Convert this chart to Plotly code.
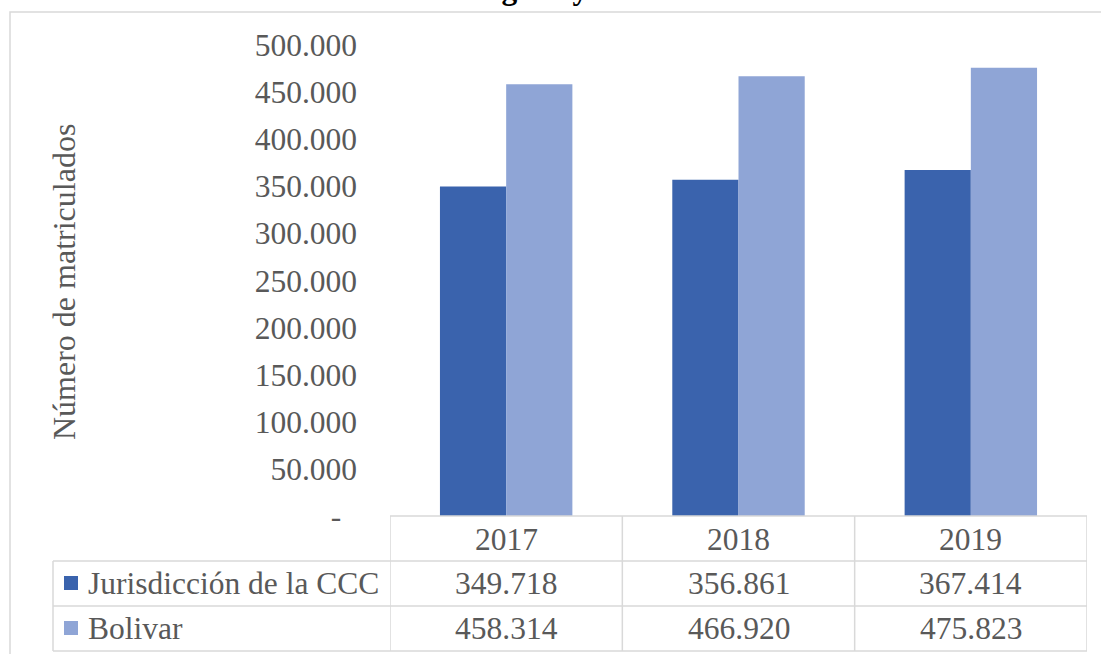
import plotly.graph_objects as go

years = ["2017", "2018", "2019"]
series_names = ["Jurisdicción de la CCC", "Bolivar"]
ccc_values = [349718, 356861, 367414]
bolivar_values = [458314, 466920, 475823]
y_tick_values = [0, 50000, 100000, 150000, 200000, 250000, 300000, 350000, 400000, 450000, 500000]
title_text = "Comercio de Cartagena y en Bolívar 2017-2019"
y_title = "Número de matriculados"

colors = ["#3A63AD", "#8FA5D6"]
TXT = "#595959"
FONT = "Liberation Serif"
GRID = "#D9D9D9"

W, H = 1101, 654
L, R, T, B = 390, 14, 45, 138
PW, PH = W - L - R, H - T - B


def px(x):
    return (x - L) / PW


def py(y):
    return (H - B - y) / PH


def fmt(v):
    return f"{v:,}".replace(",", ".")


fig = go.Figure()
for name, vals, c in zip(series_names, [ccc_values, bolivar_values], colors):
    fig.add_trace(go.Bar(x=years, y=vals, name=name, marker=dict(color=c, line=dict(width=0))))

ticktext = ["-\u00a0\u00a0"] + [fmt(v) for v in y_tick_values[1:]]

fig.update_layout(
    width=W, height=H,
    margin=dict(l=L, r=R, t=T, b=B, autoexpand=False),
    paper_bgcolor="white", plot_bgcolor="white",
    barmode="group", bargap=0.43, bargroupgap=0,
    showlegend=False,
    font=dict(family=FONT, color=TXT, size=31.5),
    xaxis=dict(range=[-0.5, 2.5], showticklabels=False, showgrid=False, zeroline=False,
               showline=False, ticks="", fixedrange=True),
    yaxis=dict(range=[0, 500000], tickvals=y_tick_values, ticktext=ticktext,
               showgrid=False, zeroline=False, showline=False, ticks="",
               ticklabelstandoff=32, tickfont=dict(size=31.5, color=TXT, family=FONT)),
)

shapes = []
line = dict(color=GRID, width=1.5)
# outer chart border
shapes.append(dict(type="rect", xref="paper", yref="paper", x0=px(10), x1=px(1200), y0=py(700), y1=py(12),
                   line=line, fillcolor="rgba(0,0,0,0)", layer="below"))
# table horizontal lines
row_lines = [516, 561, 606, 651]
for i, yy in enumerate(row_lines):
    x0 = px(390) if i == 0 else px(53)
    shapes.append(dict(type="line", xref="paper", yref="paper", x0=x0, x1=1, y0=py(yy), y1=py(yy), line=line))
# table vertical lines (category boundaries from the x axis)
for i in range(len(years) + 1):
    shapes.append(dict(type="line", xref="x", yref="paper", x0=i - 0.5, x1=i - 0.5,
                       y0=py(516), y1=py(651), line=line))
shapes.append(dict(type="line", xref="paper", yref="paper", x0=px(53), x1=px(53),
                   y0=py(561), y1=py(651), line=line))
# legend swatches
row_centers = [583, 628]
for c, yc in zip(colors, row_centers):
    shapes.append(dict(type="rect", xref="paper", yref="paper", x0=px(64), x1=px(78),
                       y0=py(yc + 7), y1=py(yc - 7), line=dict(width=0), fillcolor=c))
fig.update_layout(shapes=shapes)

ann = []
f = dict(size=31.5, color=TXT, family=FONT)
for i, yr in enumerate(years):
    ann.append(dict(x=i, y=py(539), xref="x", yref="paper", text=yr, showarrow=False,
                    xanchor="center", yanchor="middle", font=f))
for vals, yc in zip([ccc_values, bolivar_values], row_centers):
    for i, v in enumerate(vals):
        ann.append(dict(x=i, y=py(yc), xref="x", yref="paper", text=fmt(v), showarrow=False,
                        xanchor="center", yanchor="middle", font=f))
for name, yc in zip(series_names, row_centers):
    ann.append(dict(x=px(86), y=py(yc), xref="paper", yref="paper", text=name, showarrow=False,
                    xanchor="left", yanchor="middle", font=f))
ann.append(dict(x=px(64), y=py(282), xref="paper", yref="paper", text=y_title, showarrow=False,
                xanchor="center", yanchor="middle", textangle=-90,
                font=dict(size=32, color=TXT, family=FONT)))
ann.append(dict(x=px(562), y=py(-11.5), xref="paper", yref="paper", text="<b>" + title_text + "</b>",
                showarrow=False, xanchor="center", yanchor="middle",
                font=dict(size=31.5, color="black", family=FONT)))
fig.update_layout(annotations=ann)

fig.write_html("out.html", config={"displayModeBar": False},
               post_script="document.body.style.margin='0';")
